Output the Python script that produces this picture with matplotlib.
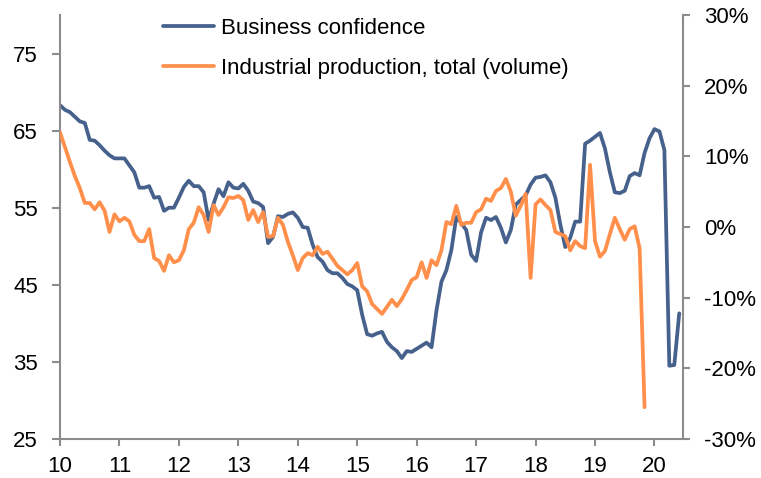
import numpy as np
import matplotlib
matplotlib.use('Agg')
import matplotlib.pyplot as plt
from matplotlib.ticker import FuncFormatter

plt.rcParams['font.family'] = ['Liberation Sans', 'DejaVu Sans']

# Monthly series, Jan 2010 onwards
confidence = [68.3, 67.7, 67.4, 66.8, 66.2, 66.0, 63.8, 63.7, 63.1, 62.4, 61.8, 61.4,   # 2010
              61.4, 61.4, 60.5, 59.6, 57.6, 57.6, 57.8, 56.3, 56.4, 54.6, 55.0, 55.0,   # 2011
              56.3, 57.7, 58.5, 57.8, 57.8, 57.0, 53.4, 55.5, 57.4, 56.5, 58.3, 57.6,   # 2012
              57.5, 58.1, 57.2, 55.8, 55.6, 55.1, 50.4, 51.2, 53.9, 53.8, 54.2, 54.4,   # 2013
              53.7, 52.5, 52.4, 50.2, 48.6, 48.0, 46.9, 46.5, 46.5, 45.9, 45.1, 44.8,   # 2014
              44.3, 41.1, 38.6, 38.4, 38.7, 38.9, 37.6, 36.9, 36.4, 35.5, 36.4, 36.3,   # 2015
              36.7, 37.1, 37.5, 36.9, 41.7, 45.4, 46.9, 49.5, 53.8, 53.0, 52.1, 48.9,   # 2016
              48.1, 51.8, 53.7, 53.4, 53.8, 52.4, 50.5, 52.1, 55.4, 56.0, 56.6, 58.0,   # 2017
              58.9, 59.0, 59.2, 58.3, 56.3, 52.8, 49.9, 51.1, 53.2, 53.2, 63.3, 63.7,   # 2018
              64.2, 64.7, 62.7, 59.6, 57.0, 56.9, 57.2, 59.1, 59.5, 59.2, 62.1, 64.0,   # 2019
              65.2, 64.9, 62.5, 34.5, 34.6, 41.3]                                       # 2020

production = [13.4, 11.3, 9.2, 7.2, 5.5, 3.4, 3.4, 2.5, 3.5, 2.3, -0.7, 1.8,            # 2010
              0.8, 1.3, 0.8, -1.1, -2.0, -2.0, -0.3, -4.4, -4.8, -6.2, -4.0, -5.0,      # 2011
              -4.7, -3.3, -0.3, 0.6, 2.8, 1.7, -0.7, 3.1, 1.7, 2.8, 4.2, 4.1,           # 2012
              4.4, 3.8, 1.0, 2.4, 0.7, 2.1, -1.4, -1.3, 1.3, 0.3, -2.1, -4.0,           # 2013
              -6.1, -4.4, -3.7, -4.0, -2.8, -3.8, -3.5, -4.5, -5.5, -6.1, -6.7, -6.1,   # 2014
              -5.1, -8.4, -9.1, -10.9, -11.6, -12.3, -11.3, -10.3, -11.2, -10.2, -8.9, -7.5,  # 2015
              -7.1, -5.0, -7.2, -4.7, -5.4, -3.3, 0.7, 0.4, 3.0, 0.3, 0.6, 0.6,         # 2016
              2.1, 2.5, 4.0, 3.7, 5.1, 5.5, 6.8, 5.0, 1.6, 3.0, 4.7, -7.2,              # 2017
              3.2, 3.9, 3.1, 2.4, -0.7, -1.0, -1.3, -3.3, -2.0, -2.7, -3.0, 8.8,        # 2018
              -2.0, -4.2, -3.4, -1.0, 1.3, -0.3, -1.8, -0.3, 0.1, -3.0, -25.5]          # 2019

year_ticks = list(range(10, 21))
year_labels = [str(y) for y in year_ticks]
left_ticks = [25, 35, 45, 55, 65, 75]
right_ticks = [-30, -20, -10, 0, 10, 20, 30]

blue = '#46618C'
orange = '#FF8F4A'
grey = '#8C8C8C'
fs = 16

t_conf = 10 + np.arange(len(confidence)) / 12
t_prod = 10 + np.arange(len(production)) / 12

fig = plt.figure(figsize=(7.61, 4.78), dpi=100)
ax = fig.add_axes([60 / 761, 1 - 439 / 478, (683 - 60) / 761, (439 - 15) / 478])
ax2 = ax.twinx()

l1, = ax.plot(t_conf, confidence, color=blue, lw=2.7, label='Business confidence',
              solid_joinstyle='round', solid_capstyle='round')
l2, = ax2.plot(t_prod, production, color=orange, lw=2.7, label='Industrial production, total (volume)',
               solid_joinstyle='round', solid_capstyle='round')

ax.set_xlim(10, 20.48)
ax.set_ylim(25, 80)
ax2.set_ylim(-30, 30)

ax.set_xticks(year_ticks)
ax.set_xticklabels(year_labels)
ax.set_yticks(left_ticks)
ax2.set_yticks(right_ticks)
ax2.yaxis.set_major_formatter(FuncFormatter(lambda v, p: f'{v:.0f}%'))

for a in (ax, ax2):
    a.spines['top'].set_visible(False)
    for s in ('left', 'right', 'bottom'):
        a.spines[s].set_color(grey)
        a.spines[s].set_linewidth(1.5)
ax.spines['right'].set_visible(False)
ax2.spines['left'].set_visible(False)
ax2.spines['bottom'].set_visible(False)

ax.tick_params(axis='y', length=6, width=1.5, color=grey, pad=10, labelsize=fs)
ax.tick_params(axis='x', length=5, width=1.5, color=grey, pad=7, labelsize=fs)
ax2.tick_params(axis='y', length=5, width=1.5, color=grey, pad=10, labelsize=fs)

leg = ax.legend(handles=[l1, l2], loc='upper left', bbox_to_anchor=(154 / 761, 1 - 9 / 478),
                bbox_transform=fig.transFigure, frameon=False, fontsize=fs,
                handlelength=2.3, handletextpad=0.3, labelspacing=0.85, borderaxespad=0)

fig.savefig('out.png', dpi=100)
